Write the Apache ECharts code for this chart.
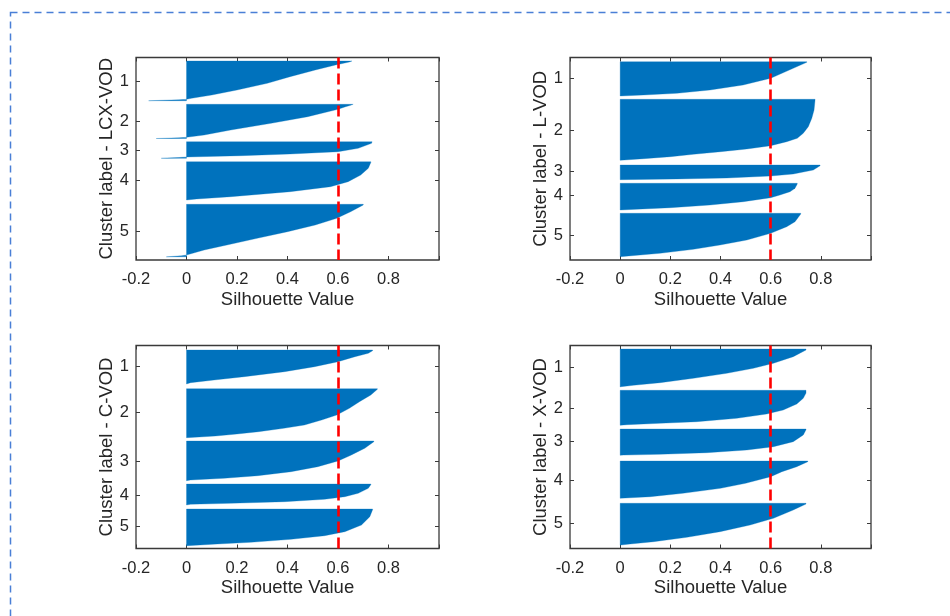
<!DOCTYPE html>
<html><head><meta charset="utf-8">
<script src="https://cdn.jsdelivr.net/npm/echarts@6/dist/echarts.min.js"></script>
<style>html,body{margin:0;padding:0;background:#fff}#c{width:950px;height:616px}</style>
</head><body><div id="c"></div>
<script>
// ---------------- DATA ----------------
const panelNames = ['Cluster label - LCX-VOD', 'Cluster label - L-VOD', 'Cluster label - C-VOD', 'Cluster label - X-VOD'];
const xAxisName = 'Silhouette Value';
const clusterLabels = ['1', '2', '3', '4', '5'];
const xRange = [-0.2, 1.0];
const xStep = 0.2;
const threshold = 0.6;
// length of the (sorted sample) index axis of each panel, top = 0
const yLength = [202.5, 202.5, 203, 203];

// silhouette profiles per cluster: [index position, silhouette value] (sorted, descending)
const lcxProfiles = [
  [[3.5,0.655],[4.5,0.645],[7.5,0.59],[12.5,0.51],[19.2,0.41],[25.8,0.32],[32.5,0.20],[37.5,0.10],[40.8,0.02],[41.8,0],[42.3,-0.03],[43.2,-0.15]],
  [[46.8,0.66],[47.8,0.65],[49.2,0.63],[51.8,0.60],[59.2,0.48],[65.8,0.335],[72.5,0.175],[77.5,0.07],[79.8,0],[80.3,-0.03],[81,-0.12]],
  [[84.2,0.735],[85.8,0.733],[90.8,0.68],[94.2,0.60],[96.5,0.41],[98.2,0.215],[99.5,0],[100,-0.03],[100.8,-0.10]],
  [[104.2,0.73],[105,0.73],[110.8,0.72],[117.5,0.69],[124.2,0.64],[129.2,0.57],[134.2,0.41],[139.2,0.175],[141.5,0.04],[142.5,0]],
  [[146.8,0.70],[147.5,0.70],[154.2,0.65],[160.8,0.595],[167.5,0.51],[174.2,0.40],[180.8,0.28],[187.5,0.16],[192.5,0.07],[197.5,0],[198.3,-0.02],[199.3,-0.08]]
];
const lcxTicks = [24.2, 63.5, 92.5, 122.5, 173.5];

const lvodProfiles = [
  [[4.2,0.744],[4.8,0.744],[10.8,0.69],[20.8,0.60],[27.5,0.49],[32.5,0.358],[35.8,0.226],[37.5,0.093],[38.5,0]],
  [[41.8,0.777],[42.5,0.777],[52.5,0.773],[60.8,0.764],[69.2,0.75],[75.8,0.73],[80.8,0.706],[84.2,0.664],[88.2,0.60],[91.5,0.505],[94.2,0.40],[96.8,0.292],[99.2,0.20],[101.2,0.093],[102.8,0]],
  [[107.5,0.797],[108.2,0.797],[112.5,0.77],[116.5,0.69],[118.5,0.60],[120.5,0.425],[121.5,0.226],[122.2,0]],
  [[125.8,0.706],[126.5,0.706],[130.8,0.697],[134.2,0.677],[137.5,0.637],[140.2,0.60],[144.2,0.491],[147.5,0.358],[150.2,0.20],[152.5,0]],
  [[155.8,0.72],[156.5,0.72],[164.2,0.697],[169.2,0.664],[175.8,0.60],[182.5,0.505],[187.5,0.398],[191.8,0.292],[195.8,0.159],[199.2,0]]
];
const lvodTicks = [20.8, 72.5, 114.2, 138.2, 177.5];

const cvodProfiles = [
  [[4.5,0.737],[5.2,0.737],[7.8,0.72],[11.2,0.667],[16.2,0.60],[21.2,0.507],[26.2,0.388],[31.2,0.228],[34.5,0.109],[37.2,0.016],[38.5,0]],
  [[43.2,0.756],[43.8,0.756],[49.5,0.73],[56.2,0.685],[62.8,0.645],[69.5,0.595],[74.5,0.535],[79.5,0.467],[82.8,0.385],[86.2,0.285],[88.5,0.20],[90.5,0.115],[91.5,0.05],[92.2,0]],
  [[95.5,0.742],[96.2,0.742],[102.8,0.706],[109.5,0.653],[115.5,0.60],[121.2,0.52],[126.2,0.414],[130.2,0.282],[132.8,0.149],[134.5,0.016],[135.2,0]],
  [[138.5,0.73],[139.2,0.73],[142.8,0.72],[147.8,0.68],[151.2,0.627],[153.8,0.547],[156.2,0.388],[157.8,0.175],[158.8,0.016],[159.5,0]],
  [[163.5,0.737],[164.2,0.737],[171.2,0.726],[179.5,0.693],[186.2,0.627],[190.2,0.547],[193.8,0.414],[196.8,0.255],[198.5,0.122],[200.2,0.003],[200.5,0]]
];
const cvodTicks = [21.2, 67.2, 115.5, 149.5, 181.2];

const xvodProfiles = [
  [[3.5,0.741],[4.5,0.741],[11.2,0.69],[17.8,0.611],[22.8,0.531],[27.8,0.425],[32.8,0.292],[37.2,0.159],[39.8,0.053],[41.2,0.003],[41.5,0]],
  [[44.8,0.741],[47.5,0.741],[52.8,0.73],[58.5,0.704],[64.5,0.65],[68.5,0.584],[72.8,0.465],[76.2,0.305],[77.8,0.159],[79.2,0.027],[79.8,0]],
  [[83.5,0.741],[84.2,0.741],[89.5,0.73],[96.2,0.69],[101.2,0.611],[104.5,0.505],[107.2,0.345],[108.8,0.159],[109.6,0.013],[109.8,0]],
  [[115.5,0.748],[116.2,0.748],[121.2,0.704],[126.2,0.645],[131.2,0.60],[137.8,0.50],[142.8,0.40],[147.8,0.25],[151.2,0.12],[152.8,0]],
  [[157.8,0.741],[158.5,0.741],[164.5,0.69],[172.8,0.611],[179.5,0.518],[186.2,0.398],[191.8,0.266],[196.2,0.133],[198.5,0.04],[199.5,0.003],[199.8,0]]
];
const xvodTicks = [21.8, 62.8, 96.2, 134.5, 177.8];

// ---------------- CHART ----------------
const panels = [
  { profiles: lcxProfiles, ticks: lcxTicks },
  { profiles: lvodProfiles, ticks: lvodTicks },
  { profiles: cvodProfiles, ticks: cvodTicks },
  { profiles: xvodProfiles, ticks: xvodTicks }
];
const gridBoxes = [
  { left: 136, top: 57.5, width: 303, height: 202.5 },
  { left: 570, top: 57.5, width: 301, height: 202.5 },
  { left: 136, top: 345.5, width: 303, height: 203 },
  { left: 570, top: 345.5, width: 301, height: 203 }
];
const FONT = '"Liberation Sans", Arial, Helvetica, sans-serif';
const TXT = '#262626';
const AX = '#3a3a3a';
const BLUE = '#0072BD';

const grid = [], xAxis = [], yAxis = [], series = [];
panels.forEach((p, i) => {
  grid.push(Object.assign({ show: true, borderColor: AX, borderWidth: 1.3, backgroundColor: '#fff', containLabel: false }, gridBoxes[i]));
  xAxis.push({
    type: 'value', gridIndex: i, min: xRange[0], max: xRange[1], interval: xStep, position: 'bottom',
    name: xAxisName, nameLocation: 'middle', nameGap: 30,
    nameTextStyle: { fontSize: 18.5, color: TXT, fontFamily: FONT },
    axisLine: { show: false, onZero: false },
    axisTick: { show: true, inside: true, length: 4, lineStyle: { color: AX, width: 1 } },
    axisLabel: {
      show: true, margin: 11, fontSize: 16.5, color: TXT, fontFamily: FONT,
      showMinLabel: true, showMaxLabel: true,
      formatter: v => (v > xRange[1] - 1e-6 ? '' : String(Math.round(v * 10) / 10))
    },
    splitLine: { show: false }
  });
  xAxis.push({
    type: 'value', gridIndex: i, min: xRange[0], max: xRange[1], interval: xStep, position: 'top',
    axisLine: { show: false, onZero: false },
    axisTick: { show: true, inside: true, length: 4, lineStyle: { color: AX, width: 1 } },
    axisLabel: { show: false }, splitLine: { show: false }
  });
  const ticks = p.ticks;
  yAxis.push({
    type: 'value', gridIndex: i, min: 0, max: yLength[i], inverse: true, position: 'left',
    name: panelNames[i], nameLocation: 'middle', nameGap: 18, nameRotate: 90,
    nameTextStyle: { fontSize: 18.5, color: TXT, fontFamily: FONT },
    axisLine: { show: false, onZero: false },
    axisTick: { show: true, inside: true, length: 4, customValues: ticks, lineStyle: { color: AX, width: 1 } },
    axisLabel: {
      show: true, margin: 7, fontSize: 16.5, color: TXT, fontFamily: FONT, customValues: ticks,
      formatter: v => {
        let best = 0;
        ticks.forEach((t, k) => { if (Math.abs(t - v) < Math.abs(ticks[best] - v)) best = k; });
        return clusterLabels[best];
      }
    },
    splitLine: { show: false }
  });
  yAxis.push({
    type: 'value', gridIndex: i, min: 0, max: yLength[i], inverse: true, position: 'right',
    axisLine: { show: false, onZero: false },
    axisTick: { show: true, inside: true, length: 4, customValues: ticks, lineStyle: { color: AX, width: 1 } },
    axisLabel: { show: false }, splitLine: { show: false }
  });
  const profiles = p.profiles;
  series.push({
    type: 'custom',
    xAxisIndex: i * 2, yAxisIndex: i * 2,
    data: profiles.map(pr => [pr[0][1], pr[0][0]]),
    clip: true,
    silent: true,
    renderItem: (params, api) => {
      const prof = profiles[params.dataIndex];
      const pts = [api.coord([0, prof[0][0]])];
      prof.forEach(([y, v]) => pts.push(api.coord([v, y])));
      pts.push(api.coord([0, prof[prof.length - 1][0]]));
      return { type: 'polygon', shape: { points: pts }, style: { fill: BLUE, stroke: BLUE, lineWidth: 0.3 } };
    },
    z: 2
  });
  series.push({
    type: 'line',
    xAxisIndex: i * 2, yAxisIndex: i * 2,
    data: [],
    silent: true,
    z: 5,
    markLine: {
      silent: true, symbol: ['none', 'none'], animation: false,
      label: { show: false },
      lineStyle: { color: '#ff0000', width: 2.6, type: [11, 5] },
      emphasis: { disabled: true },
      data: [{ xAxis: threshold }]
    }
  });
});

const chart = echarts.init(document.getElementById('c'), null, { renderer: 'canvas' });
chart.setOption({
  animation: false,
  backgroundColor: '#fff',
  grid, xAxis, yAxis, series,
  graphic: [{
    type: 'rect', silent: true, z: 100,
    shape: { x: 10.5, y: 12.5, width: 1000, height: 700 },
    style: { fill: 'none', stroke: '#4a7fd6', lineWidth: 1.5, lineDash: [7, 5] }
  }]
});
</script>
</body></html>
